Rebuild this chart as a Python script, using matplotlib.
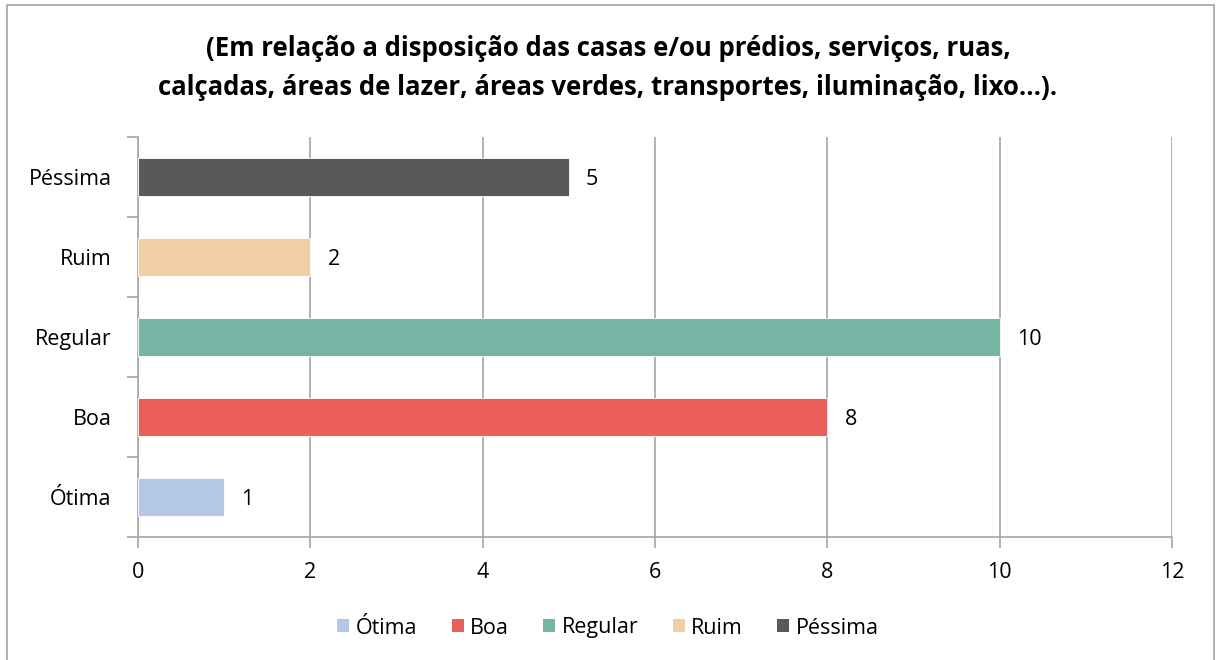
import matplotlib
matplotlib.use("Agg")
from matplotlib import pyplot as plt
from matplotlib.patches import Rectangle, Patch

categories = ["Ótima", "Boa", "Regular", "Ruim", "Péssima"]
values = [1, 8, 10, 2, 5]
colors = ["#B4C7E7", "#EB5E59", "#76B5A3", "#F0CFA5", "#595959"]
title = ("(Em relação a disposição das casas e/ou prédios, serviços, ruas,\n"
         "calçadas, áreas de lazer, áreas verdes, transportes, iluminação, lixo...).")

plt.rcParams["font.family"] = ["Open Sans", "DejaVu Sans"]

fig = plt.figure(figsize=(12.16, 6.6), dpi=100)
W, H = 1216, 660
# plot area in pixels: x 138..1172, y 137..537
ax = fig.add_axes([138 / W, 1 - 537 / H, (1172 - 138) / W, (537 - 137) / H])

# outer chart frame
fig.patches.append(Rectangle((7 / W, -0.01), (1214 - 7) / W, 1 - 5 / H + 0.01,
                             transform=fig.transFigure, fill=False,
                             edgecolor="#A6A6A6", linewidth=1.2))

ypos = list(range(len(categories)))
ax.barh(ypos, values, height=0.48, color=colors, edgecolor="white", linewidth=0.6, zorder=3)
for y, v in zip(ypos, values):
    ax.text(v + 0.2, y, str(v), va="center_baseline", ha="left", fontsize=15.5, color="black")

ax.set_xlim(0, 12)
ax.set_ylim(-0.5, 4.5)
ax.set_xticks(range(0, 13, 2))
ax.xaxis.grid(True, color="#A6A6A6", linewidth=1.2, zorder=0)
ax.set_yticks(ypos)
ax.set_yticklabels(categories)
ax.set_yticks([i - 0.5 for i in range(6)], minor=True)
ax.tick_params(axis="y", which="major", length=0, labelsize=15.5, pad=19)
ax.tick_params(axis="y", which="minor", length=8, color="#A6A6A6", width=1.2)
ax.tick_params(axis="x", length=8, color="#A6A6A6", width=1.2, labelsize=15.5, pad=10)
for s in ["top", "right"]:
    ax.spines[s].set_visible(False)
for s in ["left", "bottom"]:
    ax.spines[s].set_color("#A6A6A6")
    ax.spines[s].set_linewidth(1.2)

fig.text(0.5, 1 - 68 / H, title, ha="center", va="center", fontsize=18.5,
         fontweight="bold", linespacing=1.55)

handles = [Patch(facecolor=c, edgecolor="none") for c in colors]
fig.legend(handles, categories, loc="center", bbox_to_anchor=(0.5, 1 - 628 / H),
           ncol=5, frameon=False, fontsize=15.5, handlelength=0.55, handleheight=0.55,
           handletextpad=0.3, columnspacing=1.6)

fig.savefig("out.png", dpi=100)
